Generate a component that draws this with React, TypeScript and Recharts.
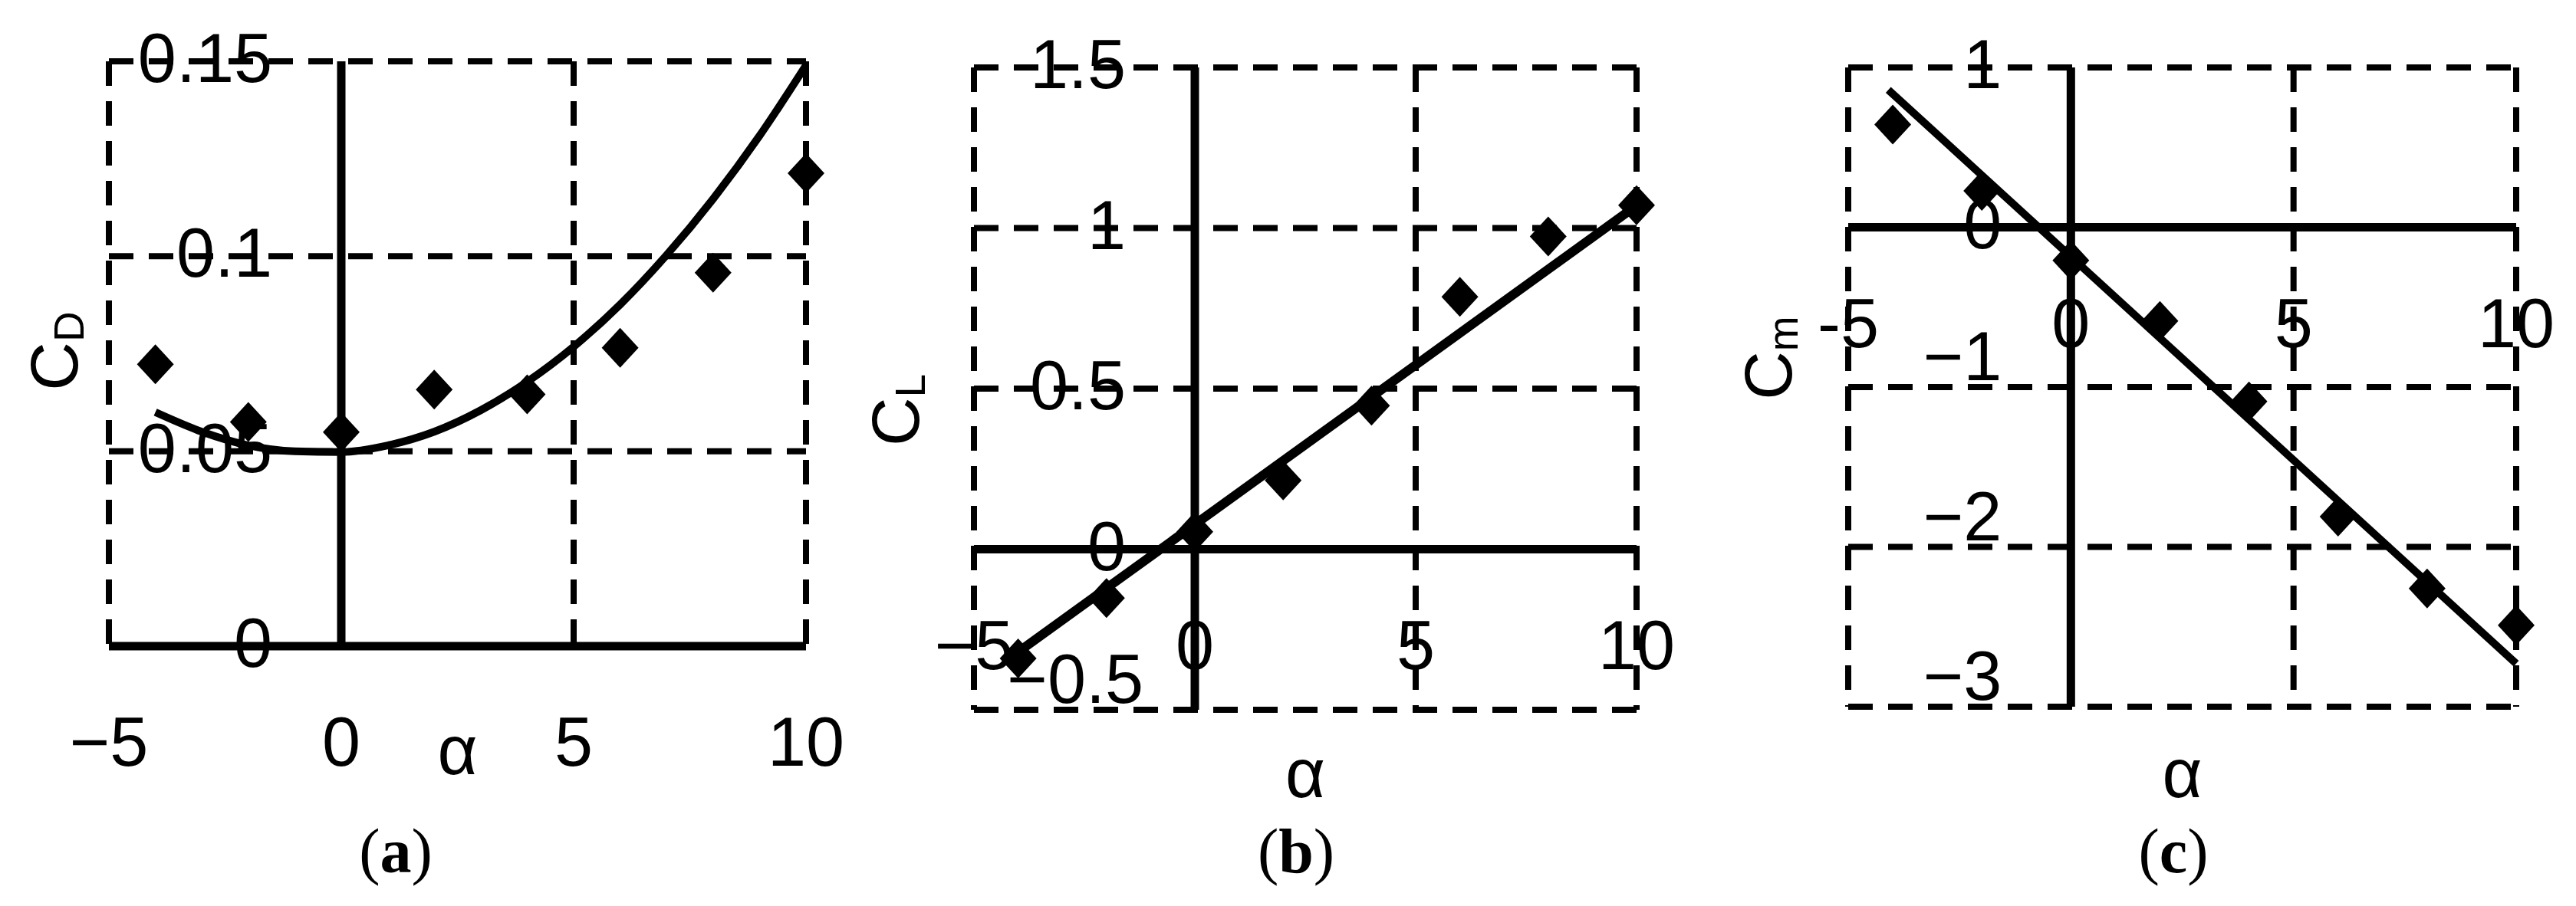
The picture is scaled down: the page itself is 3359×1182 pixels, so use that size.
import React from "react";
import { ComposedChart, XAxis, YAxis, CartesianGrid, ReferenceLine, Line, Scatter } from "recharts";

// ---- data ----
const ALPHA_TICKS = [-5, 0, 5, 10];
const ALPHA_LABELS = ["−5", "0", "5", "10"];
const ALPHA_LABELS_C = ["-5", "0", "5", "10"];

const CD_TICKS = [0, 0.05, 0.1, 0.15];
const CD_LABELS = ["0", "0.05", "0.1", "0.15"];
const CL_TICKS = [-0.5, 0, 0.5, 1, 1.5];
const CL_LABELS = ["−0.5", "0", "0.5", "1", "1.5"];
const CM_TICKS = [-3, -2, -1, 0, 1];
const CM_LABELS = ["−3", "−2", "−1", "0", "1"];

// measured points (diamonds)
const ALPHA_MEASURED = [-4, -2, 0, 2, 4, 6, 8, 10];
const CD_MEASURED = [0.0723, 0.0575, 0.0549, 0.0658, 0.0646, 0.0765, 0.0958, 0.1213];
const CL_MEASURED = [-0.34, -0.152, 0.054, 0.214, 0.447, 0.786, 0.974, 1.071];
const CM_MEASURED = [0.643, 0.228, -0.207, -0.586, -1.09, -1.81, -2.26, -2.49];

// fitted curves (solid lines)
const CD_FIT_ALPHA = [-4, -3, -2, -1, 0, 1, 2, 3, 4, 5, 6, 7, 8, 9, 10];
const CD_FIT = [0.06, 0.055, 0.0515, 0.05, 0.0498, 0.0515, 0.055, 0.0605, 0.0678, 0.0768, 0.0876, 0.1003, 0.1147, 0.1309, 0.149];
const CL_FIT_ALPHA = [-4, 10];
const CL_FIT = [-0.32, 1.07];
const CM_FIT_ALPHA = [-4.1, 10];
const CM_FIT = [0.86, -2.73];

const W = 3359;
const H = 1182;
const SANS = "'Liberation Sans', Arial, sans-serif";
const SERIF = "'Liberation Serif', 'Times New Roman', serif";
const TICK_FONT = 90;
const X_MIN = -5;
const X_MAX = 10;
// axes need a non-zero size or recharts skips drawing their ticks
const AXIS_PX = 1;

const pairs = (xs: number[], ys: number[]) => xs.map((a, i) => ({ a, v: ys[i] }));

interface Panel {
  id: string;
  sub: string;
  box: { left: number; right: number; top: number; bottom: number };
  yDomain: [number, number];
  yTicks: number[];
  yLabels: string[];
  xLabels: string[];
  points: { a: number; v: number }[];
  fit: { a: number; v: number }[];
  fitType: "monotone" | "linear";
  fitWidth: number;
  title: { x: number; y: number };
  alphaY: number;
  negDx: number;
}

const PANELS: Panel[] = [
  {
    id: "a",
    sub: "D",
    box: { left: 142, right: 1051, top: 80, bottom: 843 },
    yDomain: [0, 0.15],
    yTicks: CD_TICKS,
    yLabels: CD_LABELS,
    xLabels: ALPHA_LABELS,
    points: pairs(ALPHA_MEASURED, CD_MEASURED),
    fit: pairs(CD_FIT_ALPHA, CD_FIT),
    fitType: "monotone",
    fitWidth: 10,
    title: { x: 101, y: 458 },
    alphaY: 1010,
    negDx: 0,
  },
  {
    id: "b",
    sub: "L",
    box: { left: 1270, right: 2134, top: 88, bottom: 926 },
    yDomain: [-0.5, 1.5],
    yTicks: CL_TICKS,
    yLabels: CL_LABELS,
    xLabels: ALPHA_LABELS,
    points: pairs(ALPHA_MEASURED, CL_MEASURED),
    fit: pairs(CL_FIT_ALPHA, CL_FIT),
    fitType: "linear",
    fitWidth: 12,
    title: { x: 1198, y: 535 },
    alphaY: 1040,
    negDx: 23,
  },
  {
    id: "c",
    sub: "m",
    box: { left: 2410, right: 3281, top: 88, bottom: 922 },
    yDomain: [-3, 1],
    yTicks: CM_TICKS,
    yLabels: CM_LABELS,
    xLabels: ALPHA_LABELS_C,
    points: pairs(ALPHA_MEASURED, CM_MEASURED),
    fit: pairs(CM_FIT_ALPHA, CM_FIT),
    fitType: "linear",
    fitWidth: 10,
    title: { x: 2336, y: 467 },
    alphaY: 1040,
    negDx: 0,
  },
];

// pixel position of the value 0 on each axis — the solid axes cross there and
// the tick labels hang off them rather than off the plot border
function zeroX(p: Panel) {
  const { left, right } = p.box;
  return left + ((0 - X_MIN) / (X_MAX - X_MIN)) * (right - left);
}
function zeroY(p: Panel) {
  const { top, bottom } = p.box;
  const [lo, hi] = p.yDomain;
  return top + ((hi - 0) / (hi - lo)) * (bottom - top);
}

function Diamond(props: any) {
  const { cx, cy } = props;
  if (cx == null || cy == null) return null;
  const hw = 24;
  const hh = 26;
  return <polygon points={`${cx},${cy - hh} ${cx + hw},${cy} ${cx},${cy + hh} ${cx - hw},${cy}`} fill="#000" />;
}

function PanelChart({ p }: { p: Panel }) {
  const { box } = p;
  const x0 = zeroX(p);
  const y0 = zeroY(p);

  return (
    <div style={{ position: "absolute", left: 0, top: 0 }}>
      <ComposedChart
        width={W}
        height={H}
        margin={{ left: box.left - AXIS_PX, right: W - box.right, top: box.top, bottom: H - box.bottom - AXIS_PX }}
      >
        <CartesianGrid stroke="#000" strokeWidth={8} strokeDasharray="32 20" />
        <XAxis
          type="number"
          dataKey="a"
          domain={[X_MIN, X_MAX]}
          ticks={ALPHA_TICKS}
          interval={0}
          height={AXIS_PX}
          axisLine={false}
          tickLine={false}
          tick={(t: any) => {
            const i = ALPHA_TICKS.indexOf(t.payload.value);
            return (
              <text x={t.x} y={y0 + 156} textAnchor="middle" fontSize={TICK_FONT} fontFamily={SANS} fill="#000">
                {p.xLabels[i]}
              </text>
            );
          }}
          label={() => (
            <text x={(box.left + box.right) / 2} y={p.alphaY} textAnchor="middle" fontSize={TICK_FONT} fontFamily={SANS} fill="#000">
              α
            </text>
          )}
        />
        <YAxis
          type="number"
          domain={p.yDomain}
          ticks={p.yTicks}
          interval={0}
          width={AXIS_PX}
          axisLine={false}
          tickLine={false}
          tick={(t: any) => {
            const v = t.payload.value;
            const i = p.yTicks.indexOf(v);
            // negative labels sit above their grid line in the original
            const baseline = v < 0 ? t.y - 9 : t.y + 27;
            const tx = x0 - 90 + (v < 0 ? p.negDx : 0);
            return (
              <text x={tx} y={baseline} textAnchor="end" fontSize={TICK_FONT} fontFamily={SANS} fill="#000">
                {p.yLabels[i]}
              </text>
            );
          }}
          label={() => (
            <text
              x={p.title.x}
              y={p.title.y}
              transform={`rotate(-90 ${p.title.x} ${p.title.y})`}
              textAnchor="middle"
              fontSize={88}
              fontFamily={SANS}
              fill="#000"
            >
              C
              <tspan fontSize={55} dy={8}>
                {p.sub}
              </tspan>
            </text>
          )}
        />
        <ReferenceLine x={0} stroke="#000" strokeWidth={11} />
        <ReferenceLine y={0} stroke="#000" strokeWidth={11} />
        <Line
          data={p.fit}
          dataKey="v"
          type={p.fitType}
          stroke="#000"
          strokeWidth={p.fitWidth}
          dot={false}
          activeDot={false}
          isAnimationActive={false}
        />
        <Scatter data={p.points} dataKey="v" shape={<Diamond />} isAnimationActive={false} />
      </ComposedChart>
    </div>
  );
}

const CAPTIONS = [
  { id: "a", x: 516 },
  { id: "b", x: 1690 },
  { id: "c", x: 2834 },
];

export default function App() {
  return (
    <div style={{ position: "relative", width: W, height: H, background: "#fff" }}>
      <style>{"body{margin:0;background:#fff}"}</style>
      {PANELS.map((p) => (
        <PanelChart key={p.id} p={p} />
      ))}
      <svg width={W} height={H} style={{ position: "absolute", left: 0, top: 0, pointerEvents: "none" }}>
        {CAPTIONS.map((c) => (
          <text key={c.id} x={c.x} y={1138} textAnchor="middle" fontSize={82} fontFamily={SERIF} fill="#000">
            (<tspan fontWeight="bold">{c.id}</tspan>)
          </text>
        ))}
      </svg>
    </div>
  );
}
